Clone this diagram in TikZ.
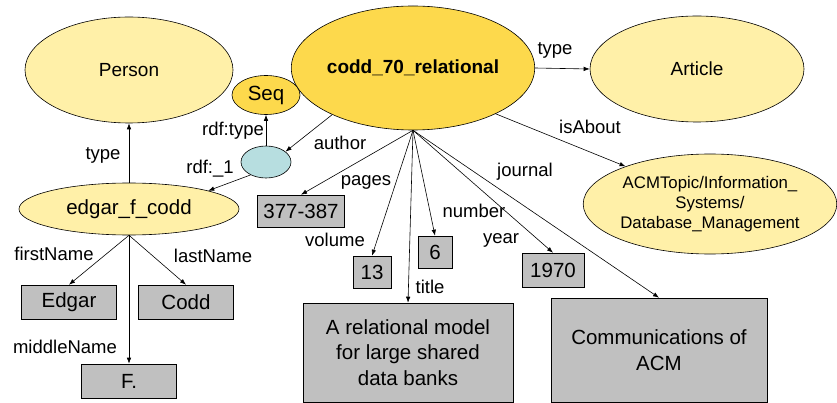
\documentclass[tikz,border=0pt]{standalone}
\usepackage{fontspec}
\setmainfont{Liberation Sans}
\usetikzlibrary{shapes.geometric,arrows.meta}
\definecolor{lightyel}{RGB}{255,240,168}
\definecolor{goldyel}{RGB}{253,217,76}
\definecolor{lightcyan}{RGB}{183,222,224}
\definecolor{boxgray}{RGB}{192,192,192}
\begin{document}
\begin{tikzpicture}[x=1pt,y=-1pt,
  ell/.style={ellipse,draw=black,line width=0.6pt,inner sep=0pt,align=center},
  lyel/.style={ell,fill=lightyel},
  gyel/.style={ell,fill=goldyel},
  lit/.style={rectangle,draw=black,line width=0.6pt,fill=boxgray,inner sep=0pt,align=center,font=\fontsize{20.5}{25.5}\selectfont},
  ellfont/.style={font=\fontsize{19}{23}\selectfont},
  lbl/.style={inner sep=0pt,font=\fontsize{18.5}{22}\selectfont},
  arr/.style={draw=black,line width=0.6pt,-{Latex[length=6pt,width=4.5pt]}}
]
\useasboundingbox[fill=white] (0,0) rectangle (837,403);

% ellipses
\node[lyel,ellfont,minimum width=208pt,minimum height=106pt] (person) at (129,70) {Person};
\node[gyel,minimum width=220pt,minimum height=124pt,font=\fontsize{19}{23}\selectfont\bfseries] (codd) at (413,68) {codd\_70\_relational};
\node[gyel,minimum width=68pt,minimum height=39pt,font=\fontsize{20.5}{24}\selectfont] (seq) at (266,95) {Seq};
\node[ell,fill=lightcyan,minimum width=50pt,minimum height=32pt] (blank) at (266,162) {};
\node[lyel,ellfont,minimum width=214pt,minimum height=106pt] (article) at (697,69) {Article};
\node[lyel,minimum width=232pt,minimum height=100pt,font=\fontsize{16.8}{20}\selectfont] (acm) at (710,204) {ACMTopic/Information\_\\Systems/\\Database\_Management};
\node[lyel,minimum width=220pt,minimum height=52pt,font=\fontsize{20.5}{24}\selectfont] (edgar) at (129,209) {edgar\_f\_codd};

% literal boxes
\node[lit,minimum width=87pt,minimum height=32pt] (pages) at (301,211) {377-387};
\node[lit,minimum width=38pt,minimum height=32pt] (vol) at (372,272) {13};
\node[lit,minimum width=34pt,minimum height=32pt] (num) at (435,252) {6};
\node[lit,minimum width=62pt,minimum height=34pt] (year) at (553,270) {1970};
\node[lit,minimum width=210pt,minimum height=99pt] (title) at (408,352.5) {A relational model\\for large shared\\data banks};
\node[lit,minimum width=216pt,minimum height=104pt,font=\fontsize{20.5}{26}\selectfont] (journal) at (659,350) {Communications of\\ACM};
\node[lit,minimum width=95pt,minimum height=34pt] (first) at (69,302) {Edgar};
\node[lit,minimum width=95pt,minimum height=34pt] (last) at (186,302) {Codd};
\node[lit,minimum width=95pt,minimum height=34pt] (middle) at (129,381) {F.};

% connectors
\draw[arr] (codd.east) -- (article.west);
\draw[arr] (codd.-29) -- (acm.156);
\draw[arr] (codd.210) -- (blank.28);
\draw[arr] (blank.north) -- (seq.south);
\draw[arr] (blank.220) -- (edgar.13);
\draw[arr] (edgar.north) -- (person.south);
\draw[arr] (codd.south) -- (pages.north);
\draw[arr] (codd.south) -- (vol.north);
\draw[arr] (codd.south) -- (title.north);
\draw[arr] (codd.south) -- (num.north);
\draw[arr] (codd.south) -- (year.north);
\draw[arr] (codd.south) -- (journal.north);
\draw[arr] (edgar.south) -- (first.north);
\draw[arr] (edgar.south) -- (last.north);
\draw[arr] (edgar.south) -- (middle.north);

% labels
\node[lbl] (l-type1) at (555,50) {type};
\node[lbl] (l-about) at (590,127) {isAbout};
\node[lbl] (l-journal) at (525,172) {journal};
\node[lbl] (l-number) at (474,211) {number};
\node[lbl] (l-year) at (501,240) {year};
\node[lbl] (l-title) at (430,287) {title};
\node[lbl] (l-volume) at (335,240) {volume};
\node[lbl] (l-pages) at (366,182) {pages};
\node[lbl] (l-author) at (340,143) {author};
\node[lbl] (l-rdftype) at (233,131) {rdf:type};
\node[lbl] (l-rdf1) at (210,169) {rdf:\_1};
\node[lbl] (l-type2) at (103,155) {type};
\node[lbl] (l-first) at (54,254) {firstName};
\node[lbl] (l-last) at (213,256) {lastName};
\node[lbl] (l-middle) at (65,347) {middleName};
\end{tikzpicture}
\end{document}
